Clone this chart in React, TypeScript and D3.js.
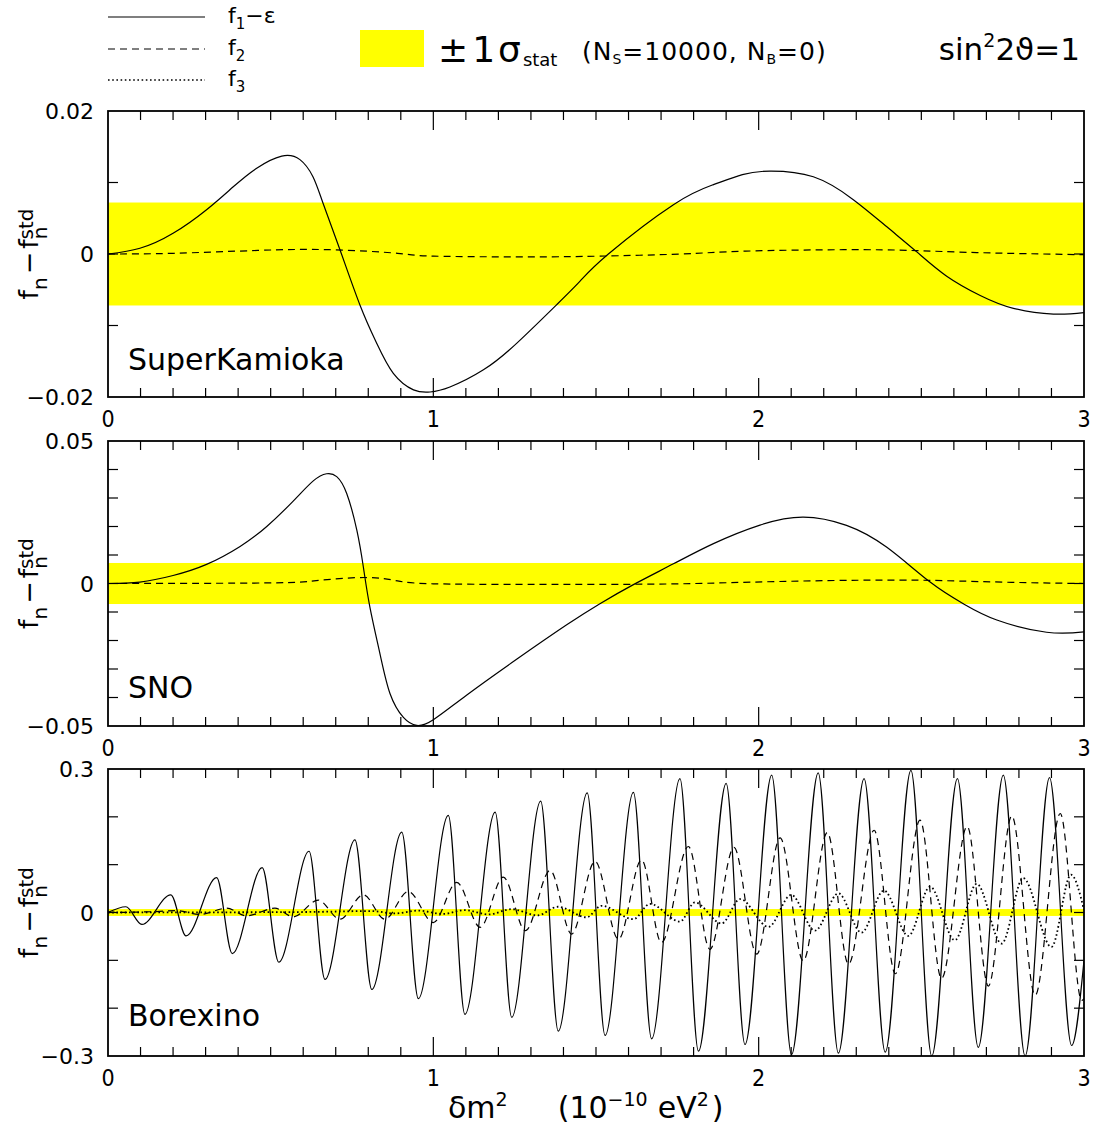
import React, { useEffect, useRef } from "react";
import * as d3 from "d3";

// values: [dm2, f - f_std]
const skF1: [number, number][] = [
  [0, 0], [0.098, 0.0008], [0.2, 0.0029], [0.303, 0.0062], [0.385, 0.0094],
  [0.457, 0.012], [0.534, 0.0137], [0.59, 0.0132], [0.63, 0.0108], [0.661, 0.0071],
  [0.713, 0.0006], [0.775, -0.0072], [0.826, -0.0125], [0.877, -0.0167], [0.939, -0.019],
  [0.99, -0.0193], [1.051, -0.0186], [1.154, -0.0162], [1.256, -0.0125], [1.379, -0.0071],
  [1.451, -0.0038], [1.538, 0], [1.738, 0.0069], [1.861, 0.0097], [1.95, 0.0111],
  [2.035, 0.0116], [2.168, 0.0108], [2.291, 0.0076], [2.394, 0.0038], [2.486, 0.0003],
  [2.578, -0.0031], [2.681, -0.0058], [2.783, -0.0076], [2.906, -0.0084], [3.0, -0.0082],
];
const skF2: [number, number][] = [
  [0, 0], [0.2, 0.0001], [0.46, 0.0005], [0.68, 0.0006], [0.89, 0.0001], [1.0, -0.0003],
  [1.3, -0.0004], [1.51, -0.0003], [1.76, 0], [1.96, 0.0004], [2.26, 0.0006],
  [2.47, 0.0005], [2.67, 0.0002], [3.0, -0.0001],
];

const snoF1: [number, number][] = [
  [0, 0], [0.098, 0.0005], [0.2, 0.0028], [0.303, 0.0067], [0.406, 0.013], [0.488, 0.02],
  [0.57, 0.029], [0.631, 0.036], [0.672, 0.0385], [0.703, 0.0375], [0.734, 0.0315],
  [0.765, 0.0186], [0.785, 0.0057], [0.805, -0.0083], [0.836, -0.0247], [0.867, -0.0387],
  [0.908, -0.047], [0.949, -0.0498], [1.0, -0.0478], [1.102, -0.0392], [1.256, -0.0266],
  [1.41, -0.0145], [1.512, -0.0071], [1.615, -0.0004], [1.738, 0.0069], [1.861, 0.0140],
  [2.004, 0.0205], [2.137, 0.0233], [2.27, 0.0204], [2.394, 0.0127], [2.527, 0.0005],
  [2.629, -0.0071], [2.732, -0.0128], [2.885, -0.0171], [3.0, -0.0170],
];
const snoF2: [number, number][] = [
  [0, 0], [0.49, 0.0002], [0.64, 0.001], [0.79, 0.0021], [0.89, 0.0009], [1.0, -0.0001],
  [1.26, -0.0003], [1.5, -0.0003], [1.76, -0.0001], [2.06, 0.0007], [2.37, 0.0012],
  [2.57, 0.001], [2.78, 0.0004], [3.0, 0],
];

// Borexino: peaks and troughs of the oscillations
const boxF1: [number, number][] = [
  [0, 0], [0.055, 0.012], [0.104, -0.025], [0.193, 0.037], [0.24, -0.049], [0.334, 0.073],
  [0.382, -0.086], [0.474, 0.094], [0.525, -0.104], [0.618, 0.128], [0.667, -0.14],
  [0.759, 0.152], [0.811, -0.161], [0.903, 0.168], [0.954, -0.18], [1.046, 0.203],
  [1.097, -0.213], [1.19, 0.21], [1.241, -0.219], [1.33, 0.233], [1.384, -0.248],
  [1.473, 0.25], [1.528, -0.257], [1.615, 0.251], [1.671, -0.264], [1.758, 0.28],
  [1.815, -0.29], [1.9, 0.27], [1.958, -0.276], [2.04, 0.287], [2.101, -0.297],
  [2.183, 0.292], [2.245, -0.294], [2.324, 0.28], [2.389, -0.292], [2.468, 0.297],
  [2.532, -0.3], [2.611, 0.28], [2.675, -0.282], [2.752, 0.287], [2.819, -0.3],
  [2.894, 0.282], [2.962, -0.278], [3.0, -0.1],
];
const boxF2: [number, number][] = [
  [0, 0], [0.15, 0.002], [0.211, 0.004], [0.283, -0.004], [0.365, 0.009], [0.426, -0.007],
  [0.513, 0.009], [0.57, -0.009], [0.646, 0.026], [0.713, -0.014], [0.785, 0.037],
  [0.851, -0.014], [0.923, 0.044], [1.0, -0.021], [1.072, 0.063], [1.144, -0.031],
  [1.215, 0.074], [1.283, -0.038], [1.359, 0.088], [1.425, -0.045], [1.497, 0.107],
  [1.569, -0.056], [1.64, 0.11], [1.701, -0.063], [1.784, 0.138], [1.85, -0.077],
  [1.924, 0.136], [1.994, -0.087], [2.066, 0.156], [2.137, -0.101], [2.211, 0.167],
  [2.276, -0.108], [2.355, 0.172], [2.42, -0.128], [2.496, 0.193], [2.562, -0.138],
  [2.641, 0.18], [2.706, -0.154], [2.778, 0.202], [2.85, -0.173], [2.927, 0.207],
  [2.993, -0.184], [3.0, -0.18],
];
const boxF3: [number, number][] = [
  [0, 0], [0.6, 0.001], [0.81, 0.003], [0.88, -0.002], [0.954, 0.004], [1.03, -0.003],
  [1.097, 0.005], [1.17, -0.004], [1.24, 0.007], [1.32, -0.006], [1.383, 0.012],
  [1.471, -0.01], [1.517, 0.014], [1.615, -0.014], [1.666, 0.018], [1.758, -0.019],
  [1.804, 0.021], [1.886, -0.023], [1.943, 0.028], [2.03, -0.03], [2.1, 0.037],
  [2.173, -0.038], [2.245, 0.04], [2.316, -0.042], [2.385, 0.046], [2.46, -0.049],
  [2.527, 0.054], [2.603, -0.058], [2.67, 0.06], [2.747, -0.065], [2.813, 0.072],
  [2.9, -0.072], [2.96, 0.079], [3.0, 0.005],
];

const sigmaStat = 0.0072;
const xTickLabels = ["0", "1", "2", "3"];
const panelNames = ["SuperKamioka", "SNO", "Borexino"];
const yLimits = [0.02, 0.05, 0.3];
const yTickSteps = [0.01, 0.01, 0.1];
const yTickLabels = [
  ["0.02", "0", "\u22120.02"],
  ["0.05", "0", "\u22120.05"],
  ["0.3", "0", "\u22120.3"],
];

const FONT = "'DejaVu Sans', sans-serif";

const App = () => {
  const ref = useRef<SVGSVGElement>(null);

  useEffect(() => {
    const svg = d3.select(ref.current);
    svg.selectAll("*").remove();

    const left = 108;
    const right = 1084;
    const tops = [111, 441, 769];
    const bottoms = [397, 726, 1056];
    const series = [
      [skF1, skF2, null],
      [snoF1, snoF2, null],
      [boxF1, boxF2, boxF3],
    ];

    const x = d3.scaleLinear().domain([0, 3]).range([left, right]);

    panelNames.forEach((name, p) => {
      const lim = yLimits[p];
      const y = d3.scaleLinear().domain([-lim, lim]).range([bottoms[p], tops[p]]);
      const g = svg.append("g");

      g.append("clipPath")
        .attr("id", `clip${p}`)
        .append("rect")
        .attr("x", left)
        .attr("y", tops[p])
        .attr("width", right - left)
        .attr("height", bottoms[p] - tops[p]);

      g.append("rect")
        .attr("x", left)
        .attr("y", y(sigmaStat))
        .attr("width", right - left)
        .attr("height", y(-sigmaStat) - y(sigmaStat))
        .attr("fill", "#ffff00");

      // x ticks, top and bottom, inward
      const xt = d3.range(1, 30).map((i) => i / 10);
      xt.forEach((v) => {
        const major = Math.abs(v - Math.round(v)) < 1e-6;
        const len = major ? 19 : 9;
        g.append("line")
          .attr("x1", x(v)).attr("x2", x(v))
          .attr("y1", bottoms[p]).attr("y2", bottoms[p] - len)
          .attr("stroke", "#000").attr("stroke-width", 1.2);
        g.append("line")
          .attr("x1", x(v)).attr("x2", x(v))
          .attr("y1", tops[p]).attr("y2", tops[p] + len)
          .attr("stroke", "#000").attr("stroke-width", 1.2);
      });

      // y ticks left and right
      const step = yTickSteps[p];
      const n = Math.round(lim / step);
      d3.range(-n + 1, n).forEach((k) => {
        const v = k * step;
        g.append("line")
          .attr("x1", left).attr("x2", left + 10)
          .attr("y1", y(v)).attr("y2", y(v))
          .attr("stroke", "#000").attr("stroke-width", 1.2);
        g.append("line")
          .attr("x1", right).attr("x2", right - 10)
          .attr("y1", y(v)).attr("y2", y(v))
          .attr("stroke", "#000").attr("stroke-width", 1.2);
      });

      // smooth spline for the slow curves, monotone through extremes for Borexino
      const line = d3
        .line<[number, number]>()
        .x((d) => x(d[0]))
        .y((d) => y(d[1]))
        .curve(p === 2 ? d3.curveMonotoneX : d3.curveNatural);

      const styles = [
        { dash: null, w: 1.2 },
        { dash: "7 5", w: 1.2 },
        { dash: "1.6 2.6", w: 1.8 },
      ];
      series[p].forEach((s, i) => {
        if (!s) return;
        g.append("path")
          .datum(s)
          .attr("d", line)
          .attr("fill", "none")
          .attr("stroke", "#000")
          .attr("stroke-width", styles[i].w)
          .attr("stroke-dasharray", styles[i].dash)
          .attr("clip-path", `url(#clip${p})`);
      });

      g.append("rect")
        .attr("x", left)
        .attr("y", tops[p])
        .attr("width", right - left)
        .attr("height", bottoms[p] - tops[p])
        .attr("fill", "none")
        .attr("stroke", "#000")
        .attr("stroke-width", 1.8);

      // tick labels
      [lim, 0, -lim].forEach((v, i) => {
        g.append("text")
          .attr("x", 94)
          .attr("y", y(v) + 8)
          .attr("text-anchor", "end")
          .style("font-family", FONT)
          .style("font-size", "22px")
          .text(yTickLabels[p][i]);
      });
      xTickLabels.forEach((t, i) => {
        g.append("text")
          .attr("x", x(i))
          .attr("y", bottoms[p] + 30)
          .attr("text-anchor", "middle")
          .style("font-family", FONT)
          .style("font-size", "23px")
          .style("font-stretch", "condensed")
          .text(t);
      });

      g.append("text")
        .attr("x", 128)
        .attr("y", [370, 698, 1026][p])
        .style("font-family", FONT)
        .style("font-size", "30px")
        .text(name);

      // y title
      const cy = (tops[p] + bottoms[p]) / 2;
      const yt = g
        .append("text")
        .attr("transform", `translate(38,${cy}) rotate(-90)`)
        .attr("text-anchor", "middle")
        .style("font-family", FONT)
        .style("font-size", "27px");
      yt.append("tspan").text("f");
      yt.append("tspan").attr("dy", 9).style("font-size", "20px").text("n");
      yt.append("tspan").attr("dy", -9).attr("dx", 3).text("\u2212");
      yt.append("tspan").attr("dx", 3).text("f");
      yt.append("tspan").attr("dy", 9).style("font-size", "20px").text("n");
      yt.append("tspan").attr("dx", -13).attr("dy", -14).style("font-size", "20px").text("std");
    });

    // legend
    const legendY = [17, 49, 80];
    const legendStyles = [null, "7 5", "1.6 2.6"];
    const legendNames = [["f", "1", "\u2212\u03b5"], ["f", "2", ""], ["f", "3", ""]];
    legendY.forEach((ly, i) => {
      svg.append("line")
        .attr("x1", 108).attr("x2", 205)
        .attr("y1", ly).attr("y2", ly)
        .attr("stroke", "#000")
        .attr("stroke-width", i === 2 ? 1.6 : 1.2)
        .attr("stroke-dasharray", legendStyles[i]);
      const t = svg.append("text")
        .attr("x", 228)
        .attr("y", ly + 6)
        .style("font-family", FONT)
        .style("font-size", "22px");
      t.append("tspan").text(legendNames[i][0]);
      t.append("tspan").attr("dy", 6).style("font-size", "15px").text(legendNames[i][1]);
      if (legendNames[i][2]) t.append("tspan").attr("dy", -6).text(legendNames[i][2]);
    });

    svg.append("rect")
      .attr("x", 360).attr("y", 30)
      .attr("width", 64).attr("height", 37)
      .attr("fill", "#ffff00");

    const sig = svg.append("text")
      .attr("x", 438).attr("y", 62)
      .style("font-family", FONT)
      .style("font-size", "36px");
    sig.append("tspan").text("\u00b1");
    sig.append("tspan").attr("dx", 4).text("1");
    sig.append("tspan").attr("dx", 3).text("\u03c3");
    sig.append("tspan").attr("dy", 4).attr("dx", 2).style("font-size", "18px").text("stat");

    const ns = svg.append("text")
      .attr("x", 582).attr("y", 60)
      .style("font-family", FONT)
      .style("font-size", "25px")
      .style("letter-spacing", "1px");
    ns.append("tspan").text("(N");
    ns.append("tspan").attr("dy", 4).style("font-size", "14px").text("S");
    ns.append("tspan").attr("dy", -4).text("=10000, N");
    ns.append("tspan").attr("dy", 4).style("font-size", "14px").text("B");
    ns.append("tspan").attr("dy", -4).text("=0)");

    const sn = svg.append("text")
      .attr("x", 1080).attr("y", 60)
      .attr("text-anchor", "end")
      .style("font-family", FONT)
      .style("font-size", "31px");
    sn.append("tspan").text("sin");
    sn.append("tspan").attr("dy", -13).style("font-size", "19px").text("2");
    sn.append("tspan").attr("dy", 13).text("2\u03d1=1");

    const xt = svg.append("text")
      .attr("x", 448).attr("y", 1118)
      .style("font-family", FONT)
      .style("font-size", "30px");
    xt.append("tspan").text("\u03b4m");
    xt.append("tspan").attr("dy", -12).style("font-size", "19px").text("2");
    xt.append("tspan").attr("dy", 12).attr("dx", 50).text("(10");
    xt.append("tspan").attr("dy", -12).style("font-size", "19px").text("\u221210");
    xt.append("tspan").attr("dy", 12).attr("dx", 10).text("eV");
    xt.append("tspan").attr("dy", -12).style("font-size", "19px").text("2");
    xt.append("tspan").attr("dy", 12).attr("dx", 3).text(")");
  }, []);

  return (
    <svg
      ref={ref}
      width={1098}
      height={1138}
      style={{ position: "absolute", left: 0, top: 0, background: "#fff" }}
    />
  );
};

export default App;
